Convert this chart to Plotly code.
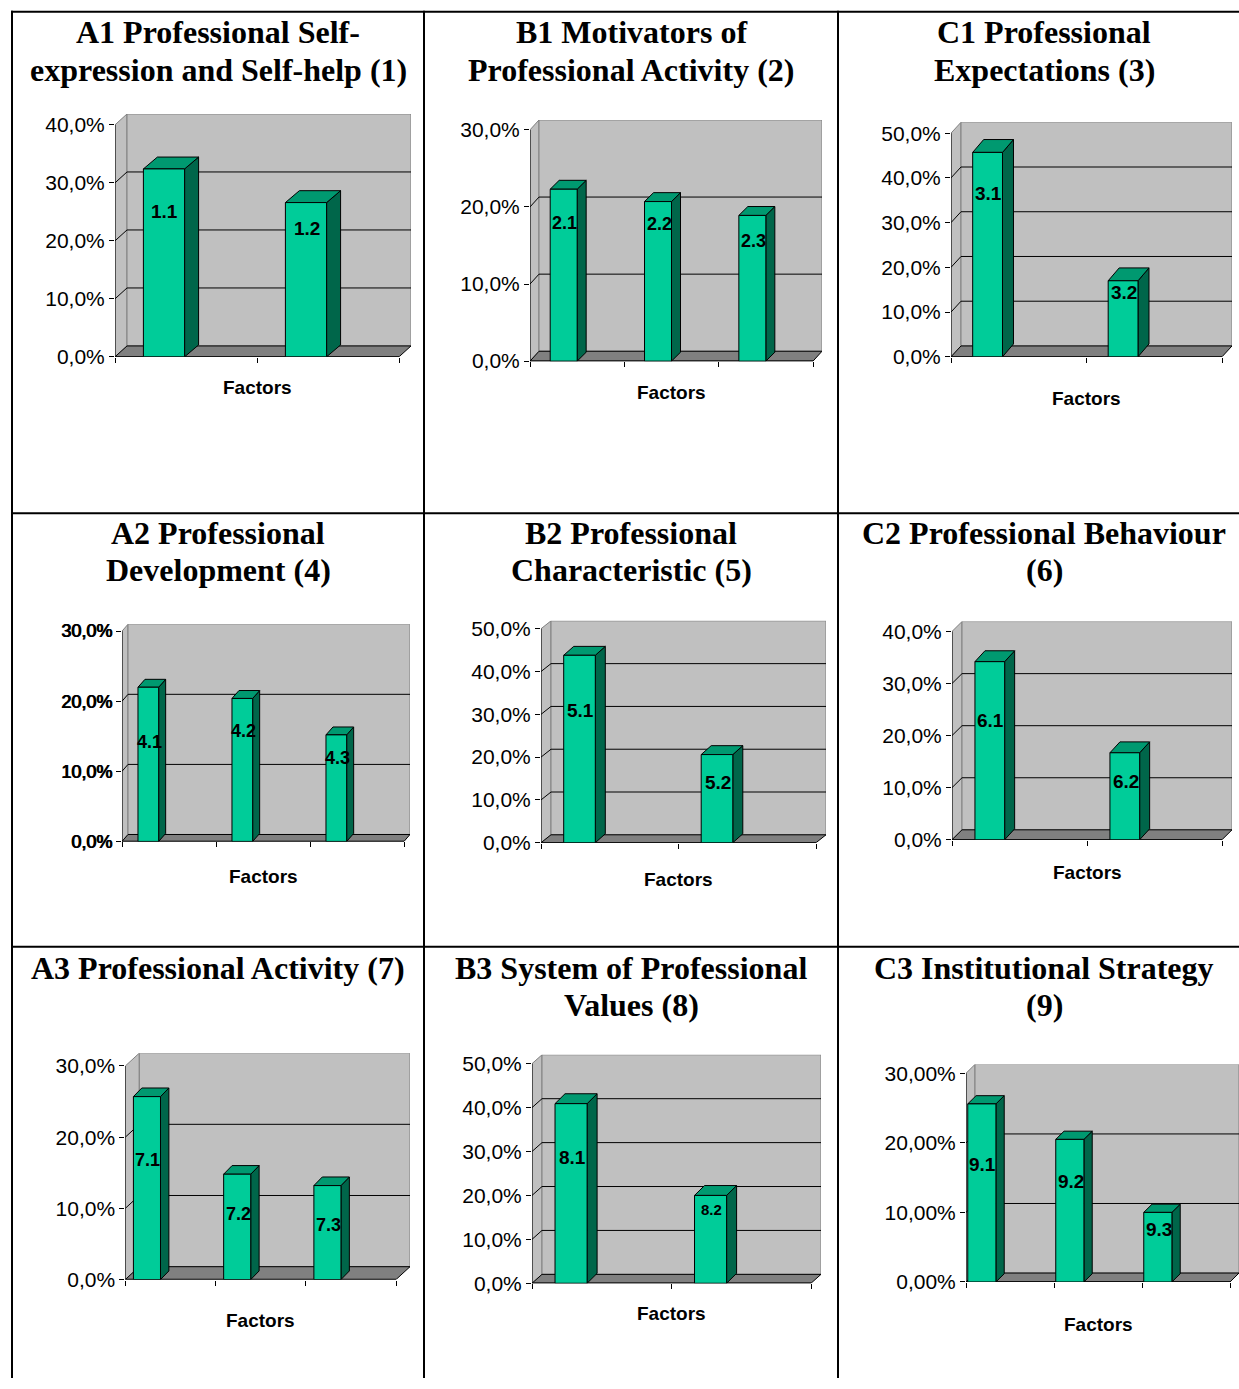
import plotly.graph_objects as go

W, H = 1239, 1389

# ---------------- data ----------------
titles_1 = ["A1 Professional Self-", "expression and Self-help (1)"]
titles_2 = ["B1 Motivators of", "Professional Activity (2)"]
titles_3 = ["C1 Professional", "Expectations (3)"]
titles_4 = ["A2 Professional", "Development (4)"]
titles_5 = ["B2 Professional", "Characteristic (5)"]
titles_6 = ["C2 Professional Behaviour", "(6)"]
titles_7 = ["A3 Professional Activity (7)"]
titles_8 = ["B3 System of Professional", "Values (8)"]
titles_9 = ["C3 Institutional Strategy", "(9)"]

labels_1 = ["1.1", "1.2"]
values_1 = [32.4, 26.6]
labels_2 = ["2.1", "2.2", "2.3"]
values_2 = [22.3, 20.7, 18.9]
labels_3 = ["3.1", "3.2"]
values_3 = [45.7, 17.0]
labels_4 = ["4.1", "4.2", "4.3"]
values_4 = [22.0, 20.4, 15.2]
labels_5 = ["5.1", "5.2"]
values_5 = [43.8, 20.6]
labels_6 = ["6.1", "6.2"]
values_6 = [34.2, 16.7]
labels_7 = ["7.1", "7.2", "7.3"]
values_7 = [25.7, 14.8, 13.2]
labels_8 = ["8.1", "8.2"]
values_8 = [40.9, 20.0]
labels_9 = ["9.1", "9.2", "9.3"]
values_9 = [25.6, 20.5, 10.0]

axis_max = [40, 30, 50, 30, 50, 40, 30, 50, 30]
axis_step = 10
tick_decimals = [1, 1, 1, 1, 1, 1, 1, 1, 2]
x_title = "Factors"

titles = [titles_1, titles_2, titles_3, titles_4, titles_5, titles_6, titles_7, titles_8, titles_9]
labels = [labels_1, labels_2, labels_3, labels_4, labels_5, labels_6, labels_7, labels_8, labels_9]
values = [values_1, values_2, values_3, values_4, values_5, values_6, values_7, values_8, values_9]

# ---------------- layout / style (pixels on the page) ----------------
panels = [
    dict(left=115, right=399, y0=356.7, ytop=125, wdx=12, wdy=11, bw=0.29, bs=-0.155, bdx=14, bdy=12,
         tsize=21, tbold=False, loff=[43, 26], lsize=[19, 19], fdy=31, tx=218, ty=[32, 70]),
    dict(left=530, right=813, y0=361, ytop=130, wdx=9, wdy=10, bw=0.286, bs=-0.143, bdx=9, bdy=9,
         tsize=21, tbold=False, loff=[34, 22, 26], lsize=[18, 18, 18], fdy=31, tx=631, ty=[32, 70]),
    dict(left=951, right=1222, y0=356.7, ytop=133.3, wdx=10, wdy=11, bw=0.22, bs=-0.23, bdx=11, bdy=13,
         tsize=21, tbold=False, loff=[41, 12], lsize=[19, 19], fdy=42, tx=1044, ty=[32, 70]),
    dict(left=122, right=404, y0=840.7, ytop=630.7, wdx=6, wdy=7, bw=0.22, bs=-0.22, bdx=7, bdy=8,
         tsize=18, tbold=True, loff=[55, 33, 23], lsize=[18, 18, 18], fdy=35, tx=218, ty=[533, 570]),
    dict(left=541, right=816, y0=842, ytop=628.3, wdx=10, wdy=8, bw=0.23, bs=-0.22, bdx=10, bdy=9,
         tsize=21, tbold=False, loff=[55, 28], lsize=[19, 19], fdy=37, tx=631, ty=[533, 570]),
    dict(left=952, right=1222, y0=839, ytop=631, wdx=10, wdy=10, bw=0.22, bs=-0.22, bdx=10, bdy=11,
         tsize=21, tbold=False, loff=[59, 29], lsize=[19, 19], fdy=33, tx=1044, ty=[533, 570]),
    dict(left=125.3, right=396, y0=1278.3, ytop=1065, wdx=14, wdy=13, bw=0.30, bs=-0.26, bdx=8.4, bdy=8.7,
         tsize=21, tbold=False, loff=[63, 40, 39], lsize=[18, 18, 18], fdy=41, tx=218, ty=[967]),
    dict(left=532, right=811, y0=1282, ytop=1062.7, wdx=10, wdy=9, bw=0.23, bs=-0.22, bdx=10, bdy=10,
         tsize=21, tbold=False, loff=[54, 14], lsize=[19, 15], fdy=30, tx=631, ty=[967, 1004]),
    dict(left=966, right=1230, y0=1280.7, ytop=1072.3, wdx=9, wdy=9, bw=0.32, bs=-0.32, bdx=8.3, bdy=8.3,
         tsize=21, tbold=False, loff=[61, 42, 17], lsize=[19, 19, 19], fdy=43, tx=1044, ty=[967, 1004]),
]

# page-y -> figure-y correction (rendered figure is slightly compressed vertically)
Y_SCALE, Y_OFF = 0.988, 4.3


def fy(y):
    return (y - Y_OFF) / Y_SCALE


NARROW = "Liberation Sans Narrow, Arial Narrow, Liberation Sans, Arial"
BOLDSANS = "Liberation Sans, Arial, sans-serif"
SERIF = "Liberation Serif, Times New Roman, serif"
WALL = "#C0C0C0"
WALL_EDGE = "#808080"
FLOOR = "#808080"
BAR_FRONT = "#00CC99"
BAR_TOP = "#009970"
BAR_SIDE = "#00664A"

fig = go.Figure()
annotations = []
shapes = []


def poly(xs, ys, fill, line, xa, ya, width=1):
    fig.add_trace(go.Scatter(
        x=list(xs) + [xs[0]], y=list(ys) + [ys[0]], mode="lines", fill="toself",
        fillcolor=fill, line=dict(color=line, width=width), hoverinfo="skip",
        showlegend=False, xaxis=xa, yaxis=ya))


def line(xs, ys, color, xa, ya, width=1):
    fig.add_trace(go.Scatter(
        x=xs, y=ys, mode="lines", line=dict(color=color, width=width),
        hoverinfo="skip", showlegend=False, xaxis=xa, yaxis=ya))


for k, (p, labs, vals, ymax, dec, ttl) in enumerate(
        zip(panels, labels, values, axis_max, tick_decimals, titles), start=1):
    n = len(vals)
    xa = "x" if k == 1 else f"x{k}"
    ya = "y" if k == 1 else f"y{k}"
    y0f, ytopf = fy(p["y0"]), fy(p["ytop"])
    cat_px = (p["right"] - p["left"]) / n
    per_px = (y0f - ytopf) / ymax
    wdx = p["wdx"] / cat_px
    wdy = p["wdy"] / per_px
    bdx = p["bdx"] / cat_px
    bdy = p["bdy"] / per_px
    x0, x1 = -0.5, n - 0.5

    # walls
    poly([x0, x0 + wdx, x0 + wdx, x0], [0, wdy, ymax + wdy, ymax], WALL, WALL_EDGE, xa, ya)
    poly([x0 + wdx, x1 + wdx, x1 + wdx, x0 + wdx], [wdy, wdy, ymax + wdy, ymax + wdy],
         WALL, WALL_EDGE, xa, ya)
    # gridlines
    ticks = list(range(0, ymax + 1, axis_step))
    gx, gy = [], []
    for v in ticks:
        if 0 < v < ymax:
            gx += [x0, x0 + wdx, x1 + wdx, None]
            gy += [v, v + wdy, v + wdy, None]
    line(gx, gy, "#000000", xa, ya)
    # floor
    poly([x0, x1, x1 + wdx, x0 + wdx], [0, 0, wdy, wdy], FLOOR, "#000000", xa, ya)
    # front axes
    line([x0, x0], [0, ymax], "#000000", xa, ya)
    line([x0, x1], [0, 0], "#000000", xa, ya, width=1.5)

    # bars
    for i, (lab, v) in enumerate(zip(labs, vals)):
        cx = i + p["bs"]
        xl, xr = cx - p["bw"] / 2, cx + p["bw"] / 2
        poly([xr, xr + bdx, xr + bdx, xr], [0, bdy, v + bdy, v], BAR_SIDE, "#000000", xa, ya)
        poly([xl, xr, xr + bdx, xl + bdx], [v, v, v + bdy, v + bdy], BAR_TOP, "#000000", xa, ya)
        poly([xl, xr, xr, xl], [0, 0, v, v], BAR_FRONT, "#000000", xa, ya)
        annotations.append(dict(
            x=cx, y=v, xref=xa, yref=ya, text=f"<b>{lab}</b>", showarrow=False,
            yshift=-p["loff"][i], xshift=1, xanchor="center", yanchor="middle",
            font=dict(family=BOLDSANS, size=p["lsize"][i], color="#000000")))

    # axis title
    annotations.append(dict(
        x=(n - 1) / 2, y=0, xref=xa, yref=ya, text=f"<b>{x_title}</b>", showarrow=False,
        yshift=-p["fdy"], xanchor="center", yanchor="middle",
        font=dict(family=BOLDSANS, size=19, color="#000000")))

    # panel title
    for t, ty in zip(ttl, p["ty"]):
        annotations.append(dict(
            x=p["tx"] / W, y=1 - fy(ty) / H, xref="paper", yref="paper", text=f"<b>{t}</b>",
            showarrow=False, xanchor="center", yanchor="middle",
            font=dict(family=SERIF, size=32, color="#000000")))

    tick_text = [(f"{v:.{dec}f}%").replace(".", ",") for v in ticks]
    tfont = dict(family=NARROW, size=p["tsize"], color="#000000")
    if p["tbold"]:
        tfont["shadow"] = "0.7px 0 0 #000000, -0.3px 0 0 #000000"

    fig.update_layout(**{
        ("xaxis" if k == 1 else f"xaxis{k}"): dict(
            domain=[p["left"] / W, (p["right"] + p["wdx"]) / W],
            range=[x0, x1 + wdx], anchor=ya, showgrid=False, zeroline=False, showline=False,
            tickmode="array", tickvals=[x0 + j for j in range(n + 1)], ticks="outside",
            ticklen=5, tickcolor="#000000", tickwidth=1, showticklabels=False, fixedrange=True),
        ("yaxis" if k == 1 else f"yaxis{k}"): dict(
            domain=[1 - y0f / H, 1 - (ytopf - p["wdy"]) / H],
            range=[0, ymax + wdy], anchor=xa, showgrid=False, zeroline=False, showline=False,
            tickmode="array", tickvals=ticks, ticktext=tick_text, ticks="outside",
            ticklen=5, tickcolor="#000000", tickwidth=1, fixedrange=True, tickfont=tfont),
    })

# table borders
border = dict(type="line", xref="paper", yref="paper", line=dict(color="#000000", width=2))
for xv in [12, 424, 838]:
    shapes.append(dict(border, x0=xv / W, x1=xv / W, y0=1 - fy(11) / H, y1=0))
for yv in [12, 513, 946]:
    shapes.append(dict(border, x0=11 / W, x1=1, y0=1 - fy(yv) / H, y1=1 - fy(yv) / H))

fig.update_layout(
    width=W, height=H, margin=dict(l=0, r=0, t=0, b=0),
    paper_bgcolor="#FFFFFF", plot_bgcolor="rgba(0,0,0,0)",
    showlegend=False, annotations=annotations, shapes=shapes,
)

fig.write_html("out.html")
